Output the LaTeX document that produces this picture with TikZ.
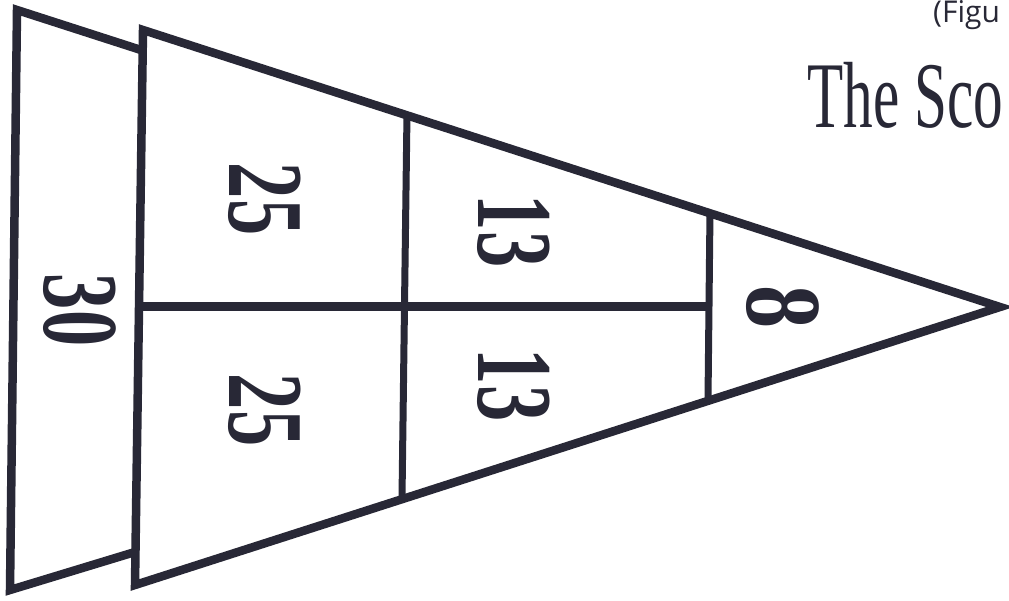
\documentclass[tikz,border=0pt]{standalone}
\usepackage{fontspec}
\setmainfont{Liberation Serif}
\newfontfamily\figfont{Open Sans}
\definecolor{ink}{RGB}{40,40,54}
\begin{document}
\begin{tikzpicture}[x=1pt,y=-1pt,
  outline/.style={draw=ink,line width=8.5pt,line join=miter},
  divider/.style={draw=ink,line width=7pt},
  midline/.style={draw=ink,line width=9pt},
  score/.style={rotate=-90,text=ink,inner sep=0pt,font=\bfseries\fontsize{108}{108}\selectfont},
  titletext/.style={text=ink,inner sep=0pt,anchor=base west}]
\useasboundingbox (0,0) rectangle (1009,600);
\clip (0,0) rectangle (1009,600);
% coordinates
\coordinate (LT) at (17,10);
\coordinate (LB) at (10,590);
\coordinate (LTR) at (141,50);
\coordinate (LBR) at (135,552);
\coordinate (A) at (143,30);
\coordinate (B) at (135,585);
\coordinate (T) at (1000,307);
\coordinate (V1t) at (407,113);
\coordinate (V1b) at (402,498);
\coordinate (V2t) at (710,211);
\coordinate (V2b) at (708,400);
\coordinate (M1) at (139,306);
\coordinate (M2) at (709,306);
% back piece (30 zone)
\draw[outline] (LTR) -- (LT) -- (LB) -- (LBR);
% main triangle
\draw[outline] (A) -- (T) -- (B) -- cycle;
% dividers
\draw[divider] (V1t) -- (V1b);
\draw[divider] (V2t) -- (V2b);
\draw[midline] (M1) -- (M2);
% scores
\node[score] (s30) at (80,310) {\scalebox{0.67}[1]{30}};
\node[score] (s25a) at (265,199) {\scalebox{0.67}[1]{25}};
\node[score] (s25b) at (265,410) {\scalebox{0.67}[1]{25}};
\node[score] (s13a) at (514,231) {\scalebox{0.67}[1]{13}};
\node[score] (s13b) at (514,385) {\scalebox{0.67}[1]{13}};
\node[score] (s8) at (783,307) {\scalebox{0.8}[1]{8}};
% titles
\node[titletext,font=\figfont\fontsize{30}{30}\selectfont] (fig) at (933,22) {(Figu};
\node[titletext,font=\fontsize{94}{94}\selectfont] (title) at (807,127) {\scalebox{0.63}[1]{The Sco}};
\end{tikzpicture}
\end{document}
